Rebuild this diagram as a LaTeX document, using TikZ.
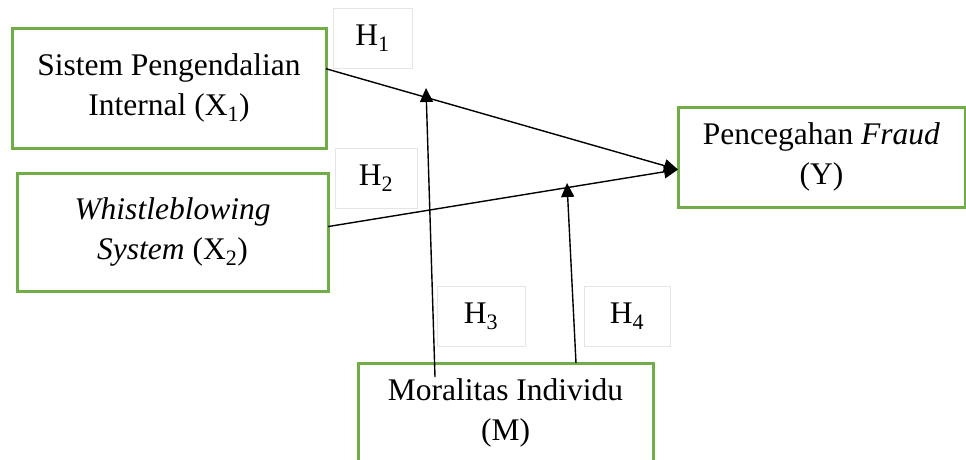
\documentclass[tikz,border=0pt]{standalone}
\usepackage{fontspec}
\setmainfont{Liberation Serif}
\usepackage{tikz}
\usetikzlibrary{positioning, arrows.meta, calc}

\definecolor{boxgreen}{HTML}{70AD47}

\begin{document}
\begin{tikzpicture}[
    x=1pt, y=-1pt,
    link/.style={-{Triangle[length=14pt, width=13pt]}, line width=1.4pt},
    varbox/.style={rectangle, draw=boxgreen, line width=3pt, inner sep=0pt, outer sep=0pt,
                   align=center, font=\fontsize{31.5}{40}\selectfont},
    hbox/.style={rectangle, draw=black!10, line width=0.6pt, inner sep=0pt,
                 font=\fontsize{31.5}{40}\selectfont}
]
    \useasboundingbox (0, 0) rectangle (966, 459);

    % === Variables ===
    \node[varbox, minimum width=314pt, minimum height=120pt] (x1) at (169, 88)
        {Sistem Pengendalian\\Internal (X\textsubscript{1})};
    \node[varbox, minimum width=311pt, minimum height=118pt] (x2) at (172.5, 232)
        {\textit{Whistleblowing}\\\textit{System} (X\textsubscript{2})};
    \node[varbox, minimum width=287pt, minimum height=100pt] (y) at (821.5, 157)
        {Pencegahan \textit{Fraud}\\(Y)};
    \node[varbox, minimum width=295pt, minimum height=100pt] (m) at (505.5, 413)
        {Moralitas Individu\\(M)};

    % === Hypothesis labels ===
    \node[hbox, minimum width=79pt, minimum height=60pt] (h1) at (372.5, 38) {H\textsubscript{1}};
    \node[hbox, minimum width=82pt, minimum height=60pt] (h2) at (376, 178) {H\textsubscript{2}};
    \node[hbox, minimum width=88pt, minimum height=60pt] (h3) at (481, 316) {H\textsubscript{3}};
    \node[hbox, minimum width=86pt, minimum height=60pt] (h4) at (627, 316) {H\textsubscript{4}};

    % moderation arrow ends
    \coordinate (t3) at (426, 88);
    \coordinate (t4) at (567, 183);

    % === Paths ===
    \draw[link] (x1.7) -- (y.185);
    \draw[link] (x2.2) -- (y.185);
    \draw[link] ([xshift=77pt, yshift=-14pt]m.north west) -- (t3);
    \draw[link] ([xshift=218pt]m.north west) -- (t4);

\end{tikzpicture}
\end{document}
